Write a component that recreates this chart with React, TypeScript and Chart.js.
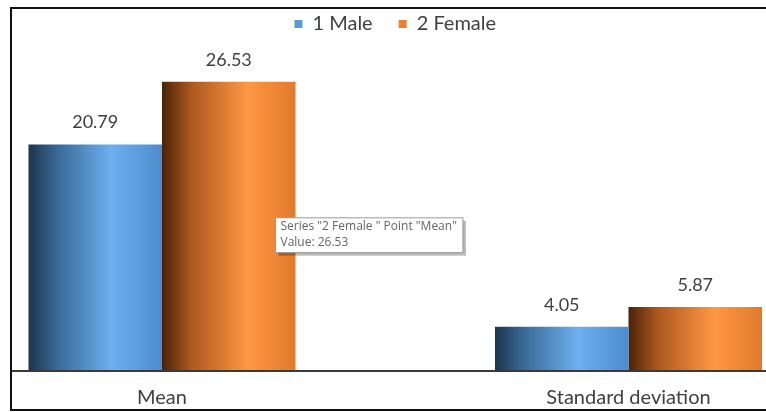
import React, { useEffect, useRef } from "react";
import { Chart, registerables, Tooltip } from "chart.js";

Chart.register(...registerables);

const categories = ["Mean", "Standard deviation"];
const seriesNames = ["1 Male", "2 Female"];
const maleValues = [20.79, 4.05];
const femaleValues = [26.53, 5.87];
const yMin = 0;
const yMax = 30;

const legendColors = ["#5b9bd5", "#ed7d31"];
const gradientStops = [
  [
    [0, "#1d344d"],
    [0.22, "#3a6a98"],
    [0.62, "#6cb0ee"],
    [1, "#4d8cce"],
  ],
  [
    [0, "#4c2307"],
    [0.22, "#ac5820"],
    [0.64, "#ff9743"],
    [1, "#e07a2c"],
  ],
];

(Tooltip as any).positioners.refNote = function (items: any[]) {
  if (!items.length) return false;
  const el = items[0].element;
  return { x: el.x + el.width / 2 - 20, y: el.y + 136 };
};

const barGradientPlugin = {
  id: "barGradient",
  beforeDatasetsDraw(chart: any) {
    const ctx = chart.ctx;
    chart.data.datasets.forEach((_ds: any, di: number) => {
      const meta = chart.getDatasetMeta(di);
      meta.data.forEach((el: any) => {
        const left = el.x - el.width / 2;
        const g = ctx.createLinearGradient(left, 0, left + el.width, 0);
        gradientStops[di].forEach(([o, c]: any) => g.addColorStop(o, c));
        el.options.backgroundColor = g;
      });
    });
  },
};

const decorPlugin = {
  id: "decor",
  afterDatasetsDraw(chart: any) {
    const ctx = chart.ctx;
    const area = chart.chartArea;
    ctx.save();
    // value labels
    ctx.font = "18px Lato";
    ctx.fillStyle = "#404040";
    ctx.textAlign = "center";
    ctx.textBaseline = "middle";
    chart.data.datasets.forEach((ds: any, di: number) => {
      const meta = chart.getDatasetMeta(di);
      meta.data.forEach((el: any, i: number) => {
        ctx.fillText(ds.data[i].toFixed(2), el.x, el.y - 22);
      });
    });
    // baseline axis
    ctx.strokeStyle = "#3a3a3a";
    ctx.lineWidth = 2;
    ctx.beginPath();
    ctx.moveTo(11, area.bottom);
    ctx.lineTo(chart.width, area.bottom);
    ctx.stroke();
    ctx.restore();
  },
  afterDraw(chart: any) {
    const ctx = chart.ctx;
    ctx.save();
    ctx.strokeStyle = "#111111";
    ctx.lineWidth = 2;
    ctx.beginPath();
    ctx.moveTo(chart.width, 8);
    ctx.lineTo(11, 8);
    ctx.lineTo(11, 410);
    ctx.lineTo(chart.width, 410);
    ctx.stroke();
    ctx.restore();
  },
  beforeTooltipDraw(chart: any, args: any) {
    const t = args.tooltip;
    if (!t || !t.opacity) return;
    const ctx = chart.ctx;
    ctx.save();
    ctx.fillStyle = "rgba(0,0,0,0.28)";
    ctx.fillRect(t.x + 3, t.y + 3, t.width, t.height);
    ctx.restore();
  },
};

export default function App() {
  const ref = useRef<HTMLCanvasElement | null>(null);

  useEffect(() => {
    if (!ref.current) return;
    Chart.defaults.font.family = "Lato";
    const chart = new Chart(ref.current, {
      type: "bar",
      data: {
        labels: categories,
        datasets: [
          {
            label: seriesNames[0],
            data: maleValues,
            backgroundColor: (c: any) => legendColors[0],
            borderWidth: 0,
            categoryPercentage: 0.5724,
            barPercentage: 1,
            clip: false as any,
          },
          {
            label: seriesNames[1],
            data: femaleValues,
            backgroundColor: (c: any) => legendColors[1],
            borderWidth: 0,
            categoryPercentage: 0.5724,
            barPercentage: 1,
            clip: false as any,
          },
        ],
      },
      options: {
        responsive: false,
        animation: false,
        layout: { padding: { left: 162, right: 137.5, top: -12, bottom: 0 } },
        scales: {
          x: {
            type: "category",
            offset: false,
            grid: { display: false, drawTicks: false },
            border: { display: false },
            ticks: {
              font: { size: 20, family: "Lato" },
              color: "#404040",
              padding: 15,
              maxRotation: 0,
              autoSkip: false,
            },
            afterFit: (s: any) => {
              s.height = 41;
            },
          } as any,
          y: {
            display: false,
            min: yMin,
            max: yMax,
          },
        },
        plugins: {
          legend: {
            position: "top",
            labels: {
              boxWidth: 8,
              boxHeight: 8,
              padding: 26,
              color: "#404040",
              font: { size: 20, family: "Lato" },
              generateLabels: (ch: any) =>
                ch.data.datasets.map((ds: any, i: number) => ({
                  text: ds.label,
                  fillStyle: legendColors[i],
                  strokeStyle: legendColors[i],
                  lineWidth: 0,
                  hidden: false,
                  datasetIndex: i,
                  fontColor: "#404040",
                })),
            },
          },
          tooltip: {
            enabled: true,
            position: "refNote" as any,
            xAlign: "left",
            yAlign: "top",
            caretSize: 0,
            caretPadding: 0,
            cornerRadius: 0,
            displayColors: false,
            backgroundColor: "#ffffff",
            borderColor: "#9a9a9a",
            borderWidth: 1,
            bodyColor: "#666666",
            bodyFont: { size: 12, family: "Open Sans" },
            bodySpacing: 1,
            padding: { top: 2, bottom: 3, left: 5, right: 6 },
            callbacks: {
              title: () => "",
              label: (c: any) => [
                `Series "${c.dataset.label} " Point "${c.label}"`,
                `Value: ${c.parsed.y.toFixed(2)}`,
              ],
            },
          },
        },
      },
      plugins: [barGradientPlugin, decorPlugin],
    });
    chart.tooltip?.setActiveElements([{ datasetIndex: 1, index: 0 }], { x: 0, y: 0 });
    chart.draw();
    return () => chart.destroy();
  }, []);

  return (
    <div style={{ position: "fixed", left: 0, top: 0, width: 766, height: 412, background: "#ffffff" }}>
      <canvas ref={ref} width={766} height={412} />
    </div>
  );
}
